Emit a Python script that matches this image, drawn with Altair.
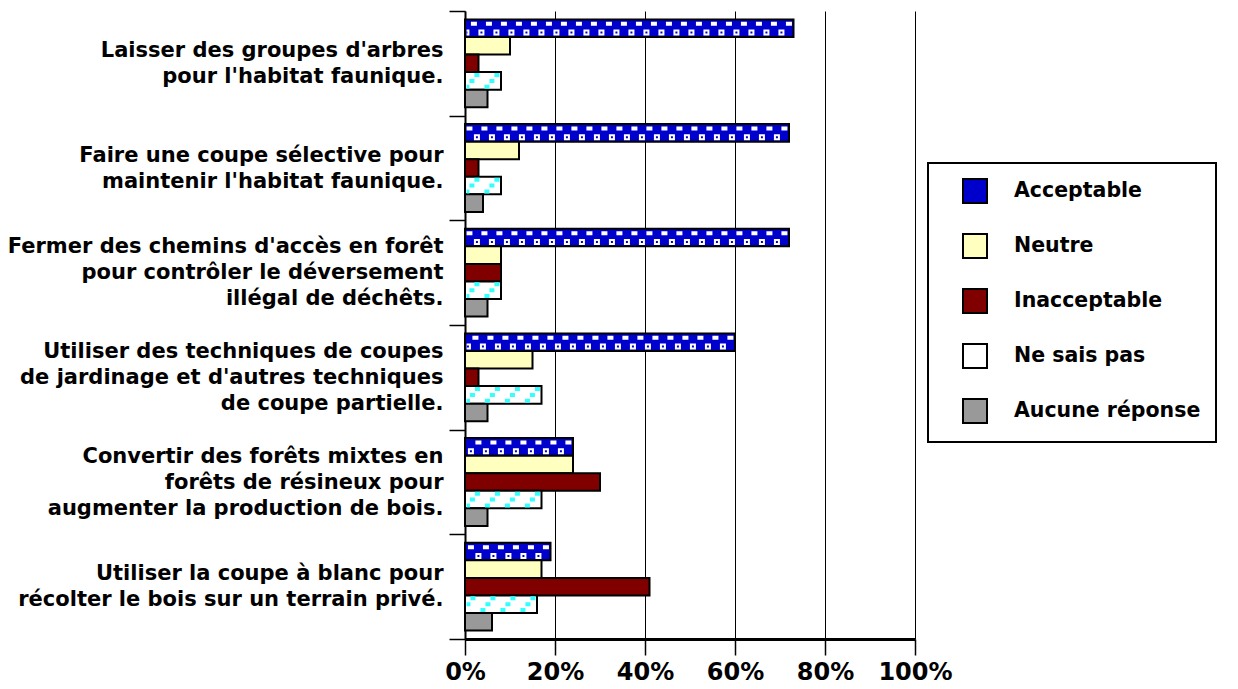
import math
import altair as alt
import pandas as pd

categories = [
    "Laisser des groupes d'arbres|pour l'habitat faunique.",
    "Faire une coupe sélective pour|maintenir l'habitat faunique.",
    "Fermer des chemins d'accès en forêt|pour contrôler le déversement|illégal de déchêts.",
    "Utiliser des techniques de coupes|de jardinage et d'autres techniques|de coupe partielle.",
    "Convertir des forêts mixtes en|forêts de résineux pour|augmenter la production de bois.",
    "Utiliser la coupe à blanc pour|récolter le bois sur un terrain privé.",
]
series = ["Acceptable", "Neutre", "Inacceptable", "Ne sais pas", "Aucune réponse"]
acceptable = [73, 72, 72, 60, 24, 19]
neutre = [10, 12, 8, 15, 24, 17]
inacceptable = [3, 3, 8, 3, 30, 41]
ne_sais_pas = [8, 8, 8, 17, 17, 16]
aucune = [5, 4, 5, 5, 5, 6]
colors = ["#0000CC", "#FFFFC0", "#800000", "#FFFFFF", "#999999"]

rows = []
for s, vals in zip(series, [acceptable, neutre, inacceptable, ne_sais_pas, aucune]):
    for c, v in zip(categories, vals):
        rows.append({"cat": c, "series": s, "value": v})
df = pd.DataFrame(rows)

FONT = "DejaVu Sans"
OUTER = 0.48  # padding fraction of each bar slot at group edges

y_enc = alt.Y(
    "cat:N",
    sort=categories,
    scale=alt.Scale(domain=categories, paddingInner=0, paddingOuter=0),
    title=None,
    axis=alt.Axis(
        labelExpr="split(datum.label, '|')",
        labelFont=FONT, labelFontSize=21, labelFontWeight="bold", labelColor="black",
        labelLineHeight=26, labelPadding=6, labelLimit=0,
        labelOffset={"condition": {"test": "length(split(datum.label, '|')) > 2", "value": -26}, "value": -13},
        tickBand="extent", tickSize=16, tickColor="black", tickWidth=1.5,
        domainColor="black", domainWidth=2,
        grid=False,
    ),
)
yoff = alt.YOffset("series:N", sort=series,
                   scale=alt.Scale(domain=series, paddingInner=0, paddingOuter=OUTER))
x_scale = alt.Scale(domain=[0, 100], nice=False)
x_enc = alt.X(
    "value:Q",
    scale=x_scale,
    title=None,
    axis=alt.Axis(
        values=[0, 20, 40, 60, 80, 100],
        labelExpr="datum.value + '%'",
        labelFont=FONT, labelFontSize=24, labelFontWeight="bold", labelColor="black",
        labelPadding=5, labelFlush=False, labelOverlap=False,
        tickSize=16, tickColor="black", tickWidth=1.5,
        domainColor="black", domainWidth=3,
        grid=True, gridColor="black", gridWidth=1, gridOpacity=1,
    ),
)

bars = alt.Chart(df).mark_bar(stroke="black", strokeWidth=2, opacity=1).encode(
    x=x_enc,
    y=y_enc,
    yOffset=yoff,
    color=alt.Color(
        "series:N",
        sort=series,
        scale=alt.Scale(domain=series, range=colors),
        legend=alt.Legend(
            title=None, orient="none", legendX=463, legendY=152,
            symbolType="square", symbolSize=576, symbolStrokeColor="black",
            symbolStrokeWidth=2, symbolOpacity=1, symbolOffset=19,
            labelFont=FONT, labelFontSize=20.5, labelFontWeight="bold", labelColor="black",
            labelOffset=26, labelLimit=0, rowPadding=23, padding=15,
            strokeColor="black", fillColor="white",
        ),
    ),
)


def pattern(name, nrows, row, color, dash, dash_off, width):
    slots = [f"{s}|{k}" for s in series for k in range(nrows)]
    n = len(slots)
    frac = OUTER / (5 + 2 * OUTER)
    pad = frac * n / (1 - 2 * frac)
    extra = int(math.floor(pad))
    pad = pad - extra
    domain = [f"_a{i}" for i in range(extra)] + slots + [f"_b{i}" for i in range(extra)]
    return alt.Chart(df).transform_filter(
        alt.datum.series == name
    ).transform_calculate(
        slot=f"datum.series + '|{row}'", end="datum.value - 0.35"
    ).mark_rule(
        color=color, strokeWidth=width, strokeDash=dash, strokeDashOffset=dash_off
    ).encode(
        x=alt.X("end:Q", scale=x_scale),
        x2=alt.datum(0.35),
        y=alt.Y("cat:N", sort=categories),
        yOffset=alt.YOffset("slot:N", scale=alt.Scale(domain=domain, paddingInner=0, paddingOuter=round(pad, 4))),
    )


layers = [
    bars,
    # Acceptable: white hooks on top row, white squares with blue centre on bottom row
    pattern("Acceptable", 2, 0, "white", [6, 9], 0, 4),
    pattern("Acceptable", 2, 1, "white", [6, 9], -7.5, 6),
    pattern("Acceptable", 2, 1, "#0000CC", [2, 13], -9.5, 2),
    # Ne sais pas: cyan diagonal squares on white
    pattern("Ne sais pas", 3, 0, "#33FFFF", [5, 15], 0, 4),
    pattern("Ne sais pas", 3, 1, "#33FFFF", [5, 15], -5, 4),
    pattern("Ne sais pas", 3, 2, "#33FFFF", [5, 15], -10, 4),
]

chart = alt.layer(*layers).resolve_scale(yOffset="independent").properties(
    width=450, height=628,
    autosize=alt.AutoSizeParams(type="none"),
    padding={"top": 3, "left": 457, "right": 310, "bottom": 46},
).configure_view(stroke=None).configure_legend(strokeWidth=2)

chart.save("out.html", embed_options={"renderer": "svg", "actions": False})
